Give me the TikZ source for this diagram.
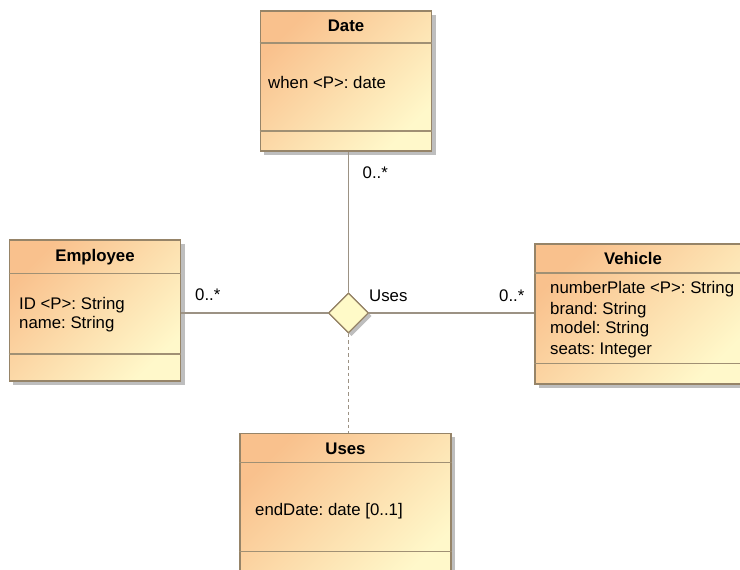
\documentclass[tikz,border=0pt]{standalone}
\usepackage{fontspec}
\setmainfont{Liberation Sans}
\usetikzlibrary{shapes.geometric}
\frenchspacing

\definecolor{boxorange}{RGB}{249,193,141}
\definecolor{boxyellow}{RGB}{255,248,202}
\definecolor{boxborder}{RGB}{150,132,104}
\definecolor{sepline}{RGB}{160,144,116}
\definecolor{wire}{RGB}{156,146,132}
\definecolor{dropshadow}{RGB}{190,190,190}
\definecolor{diamondfill}{RGB}{255,250,200}

\tikzset{
  classbox/.style={
    rectangle, inner sep=0pt, draw=boxborder, line width=1.1pt,
    shading=axis, top color=boxorange, bottom color=boxyellow, shading angle=45,
    preaction={fill=dropshadow, transform canvas={xshift=4pt,yshift=-4pt}}},
  compartment/.style={draw=sepline, line width=1.1pt},
  title/.style={font=\fontsize{16.8}{20}\selectfont\bfseries, inner sep=0pt, anchor=base},
  attr/.style={font=\fontsize{16.8}{20}\selectfont, inner sep=0pt, anchor=base west},
  mult/.style={font=\fontsize{16.8}{20}\selectfont, inner sep=0pt, anchor=base west},
  assoc/.style={draw=wire, line width=1.2pt},
  assocclass/.style={draw=wire, line width=1.3pt, dash pattern=on 3.5pt off 3pt},
  hub/.style={diamond, aspect=1, inner sep=0pt, minimum size=40pt,
    draw=boxborder, line width=1.1pt, fill=diamondfill,
    preaction={fill=dropshadow, transform canvas={xshift=3pt,yshift=-3pt}}}
}

\begin{document}
\begin{tikzpicture}[x=1pt,y=-1pt]
  \useasboundingbox (0,0) rectangle (740,570);

  % ---- Date ----
  \node[classbox, minimum width=171.5pt, minimum height=140pt] (date) at (346,81) {};
  \draw[compartment] (date.west |- 0,43) -- (date.east |- 0,43);
  \draw[compartment] (date.west |- 0,131) -- (date.east |- 0,131);
  \node[title] (date-title) at (346,31) {Date};
  \node[attr] (date-when) at (268,88.3) {when <P>: date};

  % ---- Employee ----
  \node[classbox, minimum width=171.5pt, minimum height=141pt] (emp) at (95,310.5) {};
  \draw[compartment] (emp.west |- 0,273.3) -- (emp.east |- 0,273.3);
  \draw[compartment] (emp.west |- 0,354) -- (emp.east |- 0,354);
  \node[title] (emp-title) at (95,261.7) {Employee};
  \node[attr] (emp-id) at (19,309) {ID <P>: String};
  \node[attr] (emp-name) at (19,328.5) {name: String};

  % ---- Vehicle (runs past the right edge) ----
  \node[classbox, minimum width=212pt, minimum height=140pt] (veh) at (641,314) {};
  \draw[compartment] (veh.west |- 0,273) -- (veh.east |- 0,273);
  \draw[compartment] (veh.west |- 0,363.7) -- (veh.east |- 0,363.7);
  \node[title] (veh-title) at (633,264.7) {Vehicle};
  \node[attr] (veh-plate) at (550,293.7) {numberPlate <P>: String};
  \node[attr] (veh-brand) at (550,314.3) {brand: String};
  \node[attr] (veh-model) at (550,333.7) {model: String};
  \node[attr] (veh-seats) at (550,354) {seats: Integer};

  % ---- Uses (association class, runs past the bottom edge) ----
  \node[classbox, minimum width=211pt, minimum height=150pt] (uses) at (345.5,508.3) {};
  \draw[compartment] (uses.west |- 0,462.7) -- (uses.east |- 0,462.7);
  \draw[compartment] (uses.west |- 0,551.7) -- (uses.east |- 0,551.7);
  \node[title] (uses-title) at (345.5,454.3) {Uses};
  \node[attr] (uses-end) at (255,515) {endDate: date [0..1]};

  % ---- n-ary association ----
  \node[hub] (hub) at (348.5,313) {};
  \draw[assoc] (date.south -| hub.north) -- (hub.north);
  \draw[assoc] (emp.east |- hub.west) -- (hub.west);
  \draw[assoc] (hub.east) -- (veh.west |- hub.east);
  \draw[assocclass] (hub.south) -- (uses.north -| hub.south);

  \node[mult] (m-date) at (362.5,178) {0..*};
  \node[mult] (m-emp) at (195,300.7) {0..*};
  \node[mult] (hub-name) at (369,301) {Uses};
  \node[mult] (m-veh) at (499,301) {0..*};

  % redraw the hub on top of the connector ends
  \node[hub] at (hub) {};
\end{tikzpicture}
\end{document}
